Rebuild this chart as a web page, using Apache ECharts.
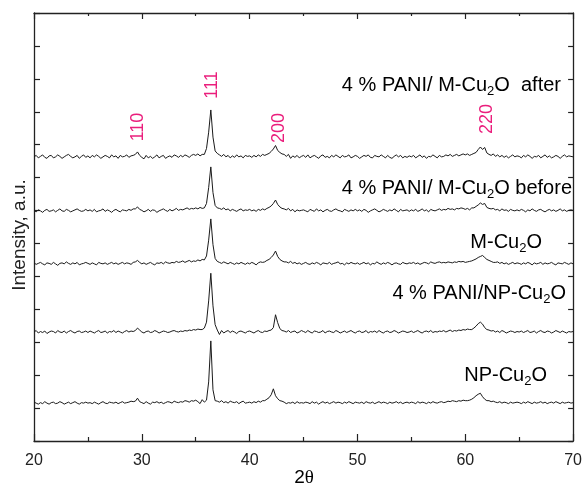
<!DOCTYPE html>
<html>
<head>
<meta charset="utf-8">
<script src="https://cdn.jsdelivr.net/npm/echarts@6.0.0/dist/echarts.min.js"></script>
<style>
  html, body { margin: 0; padding: 0; background: #ffffff; }
  #chart { width: 585px; height: 489px; }
</style>
</head>
<body>
<div id="chart"></div>
<script>
// XRD patterns of the Cu2O samples, 2θ = 20°…70° sampled every 0.2°.
const startAngle = 20;
const stepAngle = 0.2;

// Relative intensities (counts above each pattern's own baseline), 25 samples per 5° row.
const pattern4PaniMAfter = [
  0,3,-2,1,4, -1,-3,2,3,-2, 0,4,1,-3,0, 3,5,1,-2,0, 3,-3,1,4,-1,
  2,-2,3,0,4, 1,-3,0,3,1, -2,4,0,2,-3, 3,0,1,4,-1, 2,3,5,10,3,
  -1,-4,3,-2,1, -3,0,4,-2,1, 3,-3,0,2,-1, 4,2,-1,3,0, 4,2,-1,3,5,
  3,6,2,5,5, 17,50,95,40,12, 7,4,1,5,0, 3,-2,2,-1,4, 0,2,-2,3,1,
  2,-1,3,0,4, 1,5,3,5,7, 11,16,23,13,9, 6,5,1,5,-3, 2,-1,3,-2,1,
  3,-1,4,-2,1, 3,0,-3,2,4, -1,1,-2,3,0, 4,1,-2,3,0, 1,4,-2,0,3,
  1,-3,0,3,1, 4,-1,-2,3,1, 0,4,1,-2,3, -1,-3,1,4,0, 3,-2,1,-1,2,
  0,3,-2,1,4, -1,2,-3,1,0, 4,1,-2,3,0, 1,4,2,5,1, 3,5,2,4,6,
  4,6,3,5,7, 9,15,20,15,19, 8,5,3,6,1, 4,0,3,-1,2, -2,1,4,0,2,
  1,-2,3,0,4, 1,-3,1,0,3, -2,1,4,-1,2, -2,0,3,1,-3, 1,4,0,2,1,
  0
];
const pattern4PaniMBefore = [
  1,-2,2,0,-3, 1,3,-1,0,2, -2,1,4,0,-1, 3,1,-2,0,2, 4,1,-1,0,3,
  0,2,-1,3,-2, 0,1,4,-1,2, 0,-3,1,3,0, -2,2,1,0,3, 1,4,4,8,3,
  1,-2,0,3,-1, 2,1,-3,0,2, 4,1,-1,3,0, 2,5,1,3,2, 4,6,3,5,4,
  6,4,7,5,6, 15,47,89,37,11, 6,5,3,6,2, 4,0,3,1,-1, 2,4,0,2,1,
  3,0,2,-1,3, 1,4,2,5,7, 10,15,22,13,8, 5,4,2,5,0, 3,-2,2,0,1,
  2,0,-2,3,1, -1,4,0,2,-2, 1,3,0,-1,2, 4,1,0,-2,3, 1,-1,2,0,3,
  0,2,-1,3,1, -3,0,2,4,1, -2,0,3,1,-1, 2,0,4,1,-2, 3,0,1,2,-1,
  2,0,3,-1,1, 4,0,2,-2,3, 1,0,2,4,1, 3,2,5,3,4, 2,5,4,6,5,
  3,5,2,6,6, 9,12,16,13,15, 7,5,4,5,2, 3,0,4,1,2, -1,3,1,0,2,
  0,3,1,-2,2, 0,4,1,-1,2, 3,0,-2,1,3, 0,2,-1,1,4, 0,2,-1,1,2,
  1
];
const patternMCu2O = [
  2,-1,1,3,0, -2,2,1,-1,3, 0,-3,1,2,0, 4,1,-1,2,0, 3,-2,0,1,3,
  1,-1,2,0,-2, 3,1,0,2,-1, 1,3,0,2,-1, 1,3,0,2,1, -1,3,4,7,3,
  0,2,-1,1,3, 0,-2,2,1,3, 0,4,2,1,3, 2,5,3,4,6, 3,5,7,4,6,
  5,8,6,9,8, 16,48,91,39,11, 5,3,1,4,2, 0,3,1,-1,2, 0,3,1,-1,2,
  0,3,1,-2,2, 4,3,4,7,9, 13,18,26,15,9, 6,4,4,2,5, 1,3,0,2,-1,
  1,3,0,-1,2, 0,3,1,-2,2, 1,0,3,-1,1, 2,4,0,1,-2, 2,0,3,1,0,
  2,-1,1,3,0, 2,-2,1,0,4, 1,-1,2,0,3, 1,-2,1,2,0, -1,3,1,0,2,
  1,3,0,2,-1, 1,3,2,0,4, 2,1,3,4,2, 3,2,4,3,2, 4,3,5,4,5,
  3,4,5,6,8, 10,13,15,17,13, 9,7,5,3,3, 4,1,3,0,2, -1,1,3,0,2,
  1,-1,2,0,3, 1,-2,2,0,1, 3,-1,2,0,1, 3,0,-2,2,1, 0,3,1,-1,2,
  0
];
const pattern4PaniNP = [
  0,3,-2,1,-1, 2,-3,0,2,1, -2,3,0,-1,2, -2,1,3,0,-2, 1,2,-1,0,2,
  -1,2,0,-2,1, 3,-1,0,2,-2, 1,0,3,-1,2, 0,-2,1,3,0, 2,1,3,8,4,
  0,-2,1,2,-1, 0,3,1,-2,0, 2,1,-1,0,2, 3,1,0,2,1, 3,2,4,3,5,
  4,6,5,5,8, 20,63,119,53,15, 4,-5,3,-2,1, 3,-1,2,0,-3, 1,2,0,-2,1,
  2,0,-2,1,3, 0,-1,2,1,3, 4,9,35,19,7, 3,2,0,3,-1, 1,2,-2,0,3,
  1,-1,3,0,-2, 2,1,-1,0,3, -2,1,2,0,-1, 3,1,-2,0,2, -1,1,3,0,-2,
  1,2,-1,0,3, -2,1,0,2,-1, 3,0,-2,1,2, -1,0,3,1,-2, 0,2,1,-1,0,
  2,-1,1,3,0, -2,1,2,0,3, -1,1,0,2,1, 3,0,2,4,1, 3,2,4,3,5,
  4,6,5,5,8, 12,17,20,16,9, 5,4,2,3,0, 2,-1,3,1,-2, 0,2,1,-1,1,
  0,2,-1,1,3, -1,0,2,-2,1, 3,0,-1,2,1, -2,0,3,1,-1, 2,0,-2,1,0,
  1
];
const patternNPCu2O = [
  2,0,-2,1,-1, 3,0,-2,1,2, -1,0,3,1,-2, 0,2,-1,1,3, 0,-2,1,0,2,
  0,1,-1,2,0, -2,1,3,0,-1, 2,1,0,2,-1, 1,3,0,1,2, 4,3,4,10,3,
  1,-1,3,0,-2, 2,1,3,0,2, -1,1,3,2,0, 4,2,1,3,2, 5,4,2,5,4,
  6,3,-1,7,2, 6,43,126,27,5, 4,2,5,1,3, 0,4,2,1,3, -1,2,4,0,1,
  2,0,3,1,4, 2,5,5,8,11, 17,29,15,9,5, 4,2,-1,1,0, 2,-1,3,0,1,
  0,2,1,-1,3, 0,2,-2,1,3, 0,2,-1,1,3, 0,2,1,-1,2, 0,3,1,-1,2,
  1,0,2,-1,3, 1,0,2,-1,1, 3,0,2,1,-1, 2,0,1,3,0, 2,-1,1,2,0,
  2,1,-1,3,0, 2,1,-1,2,0, 3,1,0,2,3, 1,2,4,3,5, 4,3,5,4,6,
  5,5,6,8,11, 15,18,20,13,8, 5,5,3,4,2, 1,3,0,2,1, -1,2,0,1,2,
  1,-1,2,0,3, 1,-1,2,0,1, 3,0,2,-1,1, 2,0,3,1,-1, 2,0,1,2,0,
  1
];

// Vertical stacking offsets (axis units) and count-to-axis scale.
const patterns = [pattern4PaniMAfter, pattern4PaniMBefore, patternMCu2O, pattern4PaniNP, patternNPCu2O];
const offsets = [8.63, 6.99, 5.38, 3.31, 1.15];
const countScale = 0.015;

// Miller indices marked over the top pattern.
const reflections = ['110', '111', '200', '220'];

// Axis ranges
const xMin = 20, xMax = 70, xStep = 10;
const yMin = 0, yMax = 13, yStep = 1;

const FONT = '"Liberation Sans", Arial, sans-serif';
const INK = '#1a1a1a';
const PINK = '#ea1e7c';

const seriesList = patterns.map((p, k) => ({
  type: 'line',
  data: p.map((c, i) => [startAngle + i * stepAngle, offsets[k] + c * countScale]),
  showSymbol: false,
  symbol: 'none',
  lineStyle: { color: INK, width: 1 },
  silent: true,
  animation: false
}));

const axisLineStyle = { color: '#222', width: 1.3 };
const tickStyle = { color: '#222', width: 1.2 };

const chart = echarts.init(document.getElementById('chart'), null, { renderer: 'canvas' });

const subRich = {
  n: { fontFamily: FONT, fontSize: 20, color: '#222', lineHeight: 24 },
  s: { fontFamily: FONT, fontSize: 13, color: '#222', lineHeight: 24, padding: [12, 0, 0, 0] }
};

function sampleLabel(text, right, cy) {
  return {
    type: 'text', x: right, y: cy, silent: true,
    style: { text, rich: subRich, align: 'right', verticalAlign: 'middle' }
  };
}

function peakLabel(text, cx, cy) {
  return {
    type: 'text', x: cx, y: cy, rotation: Math.PI / 2, silent: true,
    style: { text, fontFamily: FONT, fontSize: 18, fill: PINK, align: 'center', verticalAlign: 'middle' }
  };
}

chart.setOption({
  backgroundColor: '#ffffff',
  animation: false,
  grid: { left: 34, right: 10, top: 13, bottom: 48, containLabel: false },
  xAxis: [
    {
      type: 'value', position: 'bottom', min: xMin, max: xMax, interval: xStep,
      axisLine: { show: true, onZero: false, lineStyle: axisLineStyle },
      axisTick: { inside: true, length: 7, lineStyle: tickStyle },
      minorTick: { show: true, splitNumber: 2, length: 4, lineStyle: tickStyle },
      splitLine: { show: false },
      axisLabel: { fontFamily: FONT, fontSize: 16, color: '#222', margin: 12 }
    },
    {
      type: 'value', position: 'top', min: xMin, max: xMax, interval: xStep,
      axisLine: { show: true, onZero: false, lineStyle: axisLineStyle },
      axisTick: { inside: true, length: 6, lineStyle: tickStyle },
      minorTick: { show: true, splitNumber: 2, length: 3, lineStyle: tickStyle },
      splitLine: { show: false },
      axisLabel: { show: false }
    }
  ],
  yAxis: [
    {
      type: 'value', position: 'left', min: yMin, max: yMax, interval: yStep,
      axisLine: { show: true, onZero: false, lineStyle: axisLineStyle },
      axisTick: { show: true, inside: true, length: 6, lineStyle: tickStyle },
      splitLine: { show: false },
      axisLabel: { show: false }
    },
    {
      type: 'value', position: 'right', min: yMin, max: yMax, interval: yStep,
      axisLine: { show: true, onZero: false, lineStyle: axisLineStyle },
      axisTick: { show: true, inside: true, length: 5, lineStyle: tickStyle },
      splitLine: { show: false },
      axisLabel: { show: false }
    }
  ],
  series: seriesList,
  graphic: [
    {
      type: 'text', x: 20, y: 235, rotation: Math.PI / 2, silent: true,
      style: { text: 'Intensity, a.u.', fontFamily: FONT, fontSize: 19, fill: '#222', align: 'center', verticalAlign: 'middle' }
    },
    {
      type: 'text', x: 304, y: 478, silent: true,
      style: {
        text: '{a|2}{b|θ}', align: 'center', verticalAlign: 'middle',
        rich: {
          a: { fontFamily: FONT, fontSize: 19, color: '#222' },
          b: { fontFamily: '"Liberation Serif", "DejaVu Serif", serif', fontSize: 19, color: '#222' }
        }
      }
    },
    sampleLabel('{n|4 % PANI/ M-Cu}{s|2}{n|O  after}', 561, 85),
    sampleLabel('{n|4 % PANI/ M-Cu}{s|2}{n|O before}', 572, 188),
    sampleLabel('{n|M-Cu}{s|2}{n|O}', 542, 242),
    sampleLabel('{n|4 % PANI/NP-Cu}{s|2}{n|O}', 566, 293),
    sampleLabel('{n|NP-Cu}{s|2}{n|O}', 547, 375),
    peakLabel(reflections[0], 138, 127),
    peakLabel(reflections[1], 212, 85),
    peakLabel(reflections[2], 279, 128),
    peakLabel(reflections[3], 487, 119)
  ]
});
</script>
</body>
</html>
